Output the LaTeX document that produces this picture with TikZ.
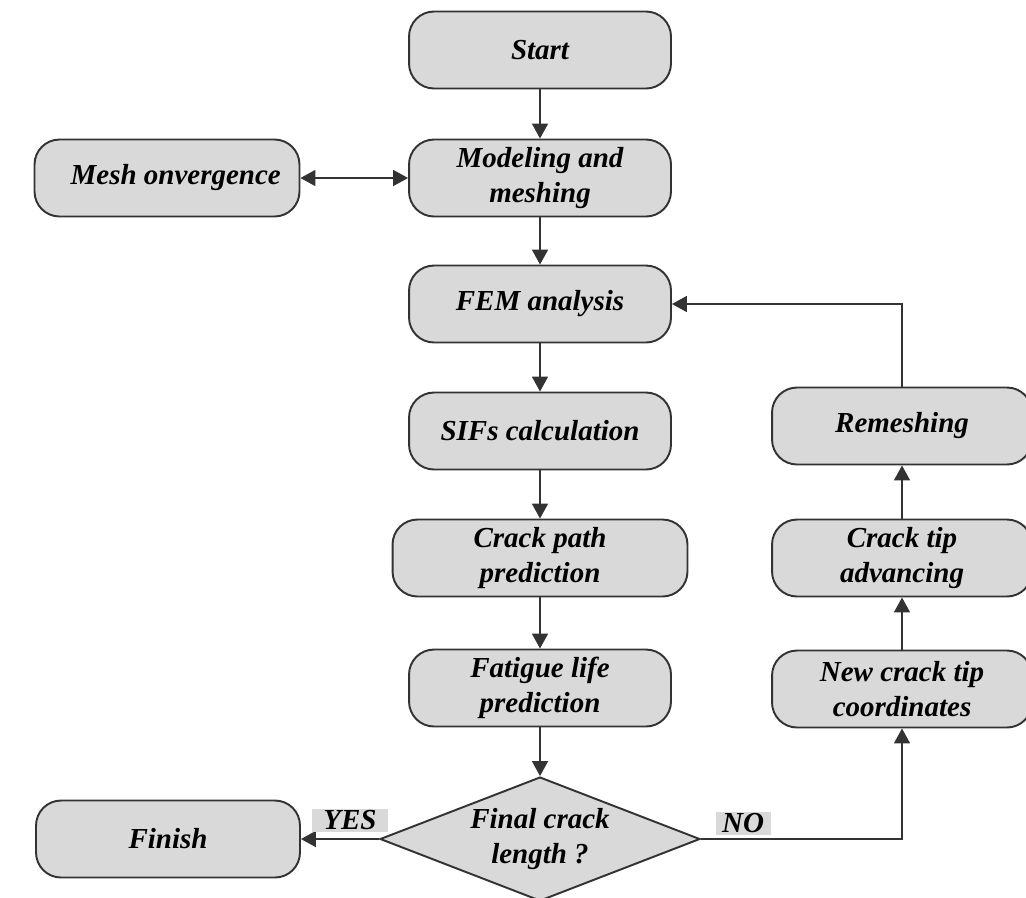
\documentclass[tikz,border=0pt]{standalone}
\usepackage{fontspec}
\setmainfont{Liberation Serif}
\usepackage{xcolor}
\usepackage{tikz}
\usetikzlibrary{shapes.geometric,arrows.meta}
\definecolor{boxgray}{HTML}{D9D9D9}
\definecolor{linegray}{HTML}{333333}

\tikzset{
  stepbox/.style={draw=linegray, line width=1.1pt, fill=boxgray, rounded corners=0.5cm,
    minimum width=5.24cm, minimum height=1.54cm, align=center, inner sep=2pt,
    font=\fontsize{16.5}{20}\selectfont\bfseries\itshape},
  testbox/.style={diamond, aspect=2.58, draw=linegray, line width=1.1pt, fill=boxgray,
    minimum width=6.4cm, minimum height=2.48cm, inner sep=0pt, align=center,
    font=\fontsize{16.5}{20}\selectfont\bfseries\itshape},
  answer/.style={fill=boxgray, inner sep=1pt, minimum height=0.42cm,
    font=\fontsize{16.5}{20}\selectfont\bfseries\itshape},
  flow/.style={draw=linegray, line width=1pt, -{Triangle[length=0.3cm,width=0.32cm]}},
}

\begin{document}
\begin{tikzpicture}[x=0.02cm, y=-0.02cm]
\useasboundingbox (0,0) rectangle (1026,897);

\node[stepbox] (start) at (540,50) {Start};
\node[stepbox] (model) at (540,178) {Modeling and\\meshing};
\node[stepbox, minimum width=5.3cm] (conv) at (167,178) {\hspace{0.6em}Mesh onvergence};
\node[stepbox] (fem) at (540,304) {FEM analysis};
\node[stepbox] (sifs) at (540,431) {SIFs calculation};
\node[stepbox, minimum width=5.9cm] (path) at (540,558) {Crack path\\prediction};
\node[stepbox] (life) at (540,688) {Fatigue life\\prediction};
\node[testbox] (final) at (540,839) {Final crack\\length ?};
\node[stepbox, minimum width=5.28cm] (finish) at (168,839) {Finish};

\node[stepbox, minimum width=5.2cm] (remesh) at (902,426) {Remeshing};
\node[stepbox, minimum width=5.2cm] (advance) at (902,558) {Crack tip\\advancing};
\node[stepbox, minimum width=5.2cm] (newtip) at (902,689) {New crack tip\\coordinates};

\draw[flow] (start) -- (model);
\draw[flow, {Triangle[length=0.3cm,width=0.32cm]}-{Triangle[length=0.3cm,width=0.32cm]}] (conv) -- (model);
\draw[flow] (model) -- (fem);
\draw[flow] (fem) -- (sifs);
\draw[flow] (sifs) -- (path);
\draw[flow] (path) -- (life);
\draw[flow] (life) -- (final);
\draw[flow] (final.west) -- (finish.east);
\draw[flow] (final.east) -| (newtip.south);
\draw[flow] (newtip) -- (advance);
\draw[flow] (advance) -- (remesh);
\draw[flow] (remesh.north) |- (fem.east);

\node[answer, minimum width=1.52cm] (yes) at (350,820) {YES};
\node[answer, minimum width=1.1cm] (no) at (743,823) {NO};
\end{tikzpicture}
\end{document}
